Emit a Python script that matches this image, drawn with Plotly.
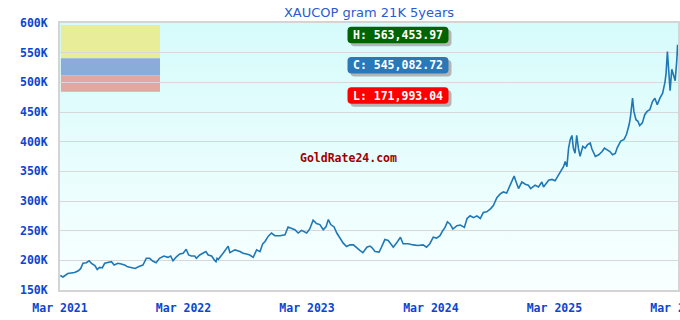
import base64
import plotly.graph_objects as go

# ---------------- data ----------------
dates_2021 = ["2021-03-02", "2021-03-05", "2021-03-10", "2021-03-24", "2021-04-13", "2021-04-23",
              "2021-05-01", "2021-05-08", "2021-05-18", "2021-05-26", "2021-06-02", "2021-06-12",
              "2021-06-19", "2021-06-26", "2021-07-04", "2021-07-11", "2021-07-21", "2021-07-31",
              "2021-08-08", "2021-08-19", "2021-08-29", "2021-09-08", "2021-09-17", "2021-09-27",
              "2021-10-09", "2021-10-22", "2021-11-01", "2021-11-06", "2021-11-11", "2021-11-21",
              "2021-11-30", "2021-12-10", "2021-12-20"]
values_2021 = [174.5, 173.7, 171.99, 177.8, 179.5, 182.0,
               186.0, 195.0, 196.0, 199.3, 195.0, 191.0,
               184.6, 188.0, 187.4, 195.0, 196.0, 197.6,
               192.0, 195.0, 193.7, 192.0, 189.0, 188.0,
               186.3, 190.0, 192.0, 197.6, 203.4, 203.4,
               198.8, 196.0, 203.4]

dates_2022 = ["2022-01-02", "2022-01-14", "2022-01-22", "2022-01-29", "2022-02-08", "2022-02-18",
              "2022-02-28", "2022-03-09", "2022-03-16", "2022-03-24", "2022-04-03", "2022-04-08",
              "2022-04-18", "2022-04-28", "2022-05-06", "2022-05-13", "2022-05-23", "2022-05-31",
              "2022-06-05", "2022-06-08", "2022-06-12", "2022-06-26", "2022-07-11", "2022-07-16",
              "2022-07-31", "2022-08-15", "2022-08-24", "2022-09-03", "2022-09-13", "2022-09-23",
              "2022-10-03", "2022-10-13", "2022-10-21", "2022-10-28", "2022-11-06", "2022-11-16",
              "2022-11-26", "2022-12-11", "2022-12-26"]
values_2022 = [207.3, 205.0, 207.3, 199.3, 206.0, 210.7,
               212.0, 218.8, 209.0, 207.3, 207.3, 203.4,
               209.0, 213.0, 214.7, 209.0, 207.3, 200.5,
               197.6, 203.4, 201.7, 212.0, 224.0, 213.0,
               217.6, 214.7, 212.0, 210.7, 209.0, 205.0,
               217.6, 214.7, 227.8, 231.7, 240.3, 246.0,
               241.5, 241.5, 243.2]

dates_2023 = ["2023-01-04", "2023-01-14", "2023-01-24", "2023-02-03", "2023-02-13", "2023-02-28",
              "2023-03-09", "2023-03-19", "2023-03-29", "2023-04-08", "2023-04-18", "2023-04-26",
              "2023-05-03", "2023-05-10", "2023-05-20", "2023-05-28", "2023-06-07", "2023-06-16",
              "2023-06-26", "2023-07-06", "2023-07-16", "2023-07-26", "2023-08-05", "2023-08-13",
              "2023-08-25", "2023-09-03", "2023-09-08", "2023-09-18", "2023-09-30", "2023-10-07",
              "2023-10-17", "2023-10-27", "2023-11-11", "2023-11-21", "2023-12-02", "2023-12-10",
              "2023-12-25"]
values_2023 = [256.3, 254.6, 251.7, 246.0, 250.5, 246.0,
               252.9, 267.6, 262.0, 260.3, 251.7, 256.3,
               268.8, 260.3, 256.3, 246.0, 237.5, 229.0,
               223.2, 226.1, 226.0, 220.5, 216.4, 213.0,
               222.0, 224.0, 222.0, 215.0, 214.0, 222.0,
               235.0, 233.5, 222.0, 229.5, 239.0, 228.0,
               228.0]

dates_2024 = ["2024-01-09", "2024-01-23", "2024-02-07", "2024-02-17", "2024-02-27", "2024-03-08",
              "2024-03-18", "2024-03-28", "2024-04-05", "2024-04-12", "2024-04-19", "2024-04-27",
              "2024-05-05", "2024-05-17", "2024-05-27", "2024-06-08", "2024-06-16", "2024-06-25",
              "2024-07-05", "2024-07-15", "2024-07-25", "2024-08-03", "2024-08-13", "2024-08-25",
              "2024-09-02", "2024-09-12", "2024-09-22", "2024-10-01", "2024-10-11", "2024-10-19",
              "2024-10-26", "2024-11-02", "2024-11-08", "2024-11-15", "2024-11-25", "2024-12-05",
              "2024-12-14", "2024-12-21"]
values_2024 = [226.0, 225.0, 226.0, 222.0, 228.0, 239.0,
               237.5, 241.7, 250.0, 255.5, 265.0, 261.0,
               252.8, 258.3, 259.5, 255.5, 270.5, 275.0,
               272.0, 275.0, 270.5, 280.5, 281.7, 287.2,
               292.8, 305.5, 312.0, 315.2, 313.5, 323.7,
               335.0, 342.0, 332.0, 321.0, 332.0, 328.3,
               326.6, 321.0]

dates_2025 = ["2025-01-03", "2025-01-13", "2025-01-23", "2025-01-28", "2025-02-12", "2025-02-22",
              "2025-03-03", "2025-03-13", "2025-03-20", "2025-03-28", "2025-04-02", "2025-04-07",
              "2025-04-12", "2025-04-17", "2025-04-22", "2025-04-26", "2025-05-01", "2025-05-06",
              "2025-05-11", "2025-05-16", "2025-05-24", "2025-05-31", "2025-06-07", "2025-06-15",
              "2025-06-20", "2025-06-30", "2025-07-10", "2025-07-20", "2025-07-27", "2025-08-04",
              "2025-08-12", "2025-08-20", "2025-08-28", "2025-09-03", "2025-09-13", "2025-09-23",
              "2025-09-30", "2025-10-08", "2025-10-12", "2025-10-18", "2025-10-22", "2025-10-28",
              "2025-11-03", "2025-11-08", "2025-11-16", "2025-11-23", "2025-11-30", "2025-12-08",
              "2025-12-16", "2025-12-23", "2025-12-30"]
values_2025 = [326.6, 323.7, 332.0, 323.7, 335.0, 336.3,
               334.0, 343.7, 352.0, 357.8, 366.4, 357.8,
               389.0, 403.7, 410.5, 389.0, 380.7, 410.5,
               389.0, 375.2, 392.0, 389.0, 394.9, 397.8,
               387.5, 375.2, 378.0, 383.4, 389.0, 386.4,
               383.4, 378.0, 380.0, 390.0, 401.0, 403.8,
               412.0, 428.8, 442.7, 473.3, 451.0, 437.0,
               434.4, 427.0, 431.7, 445.5, 451.0, 453.8,
               467.6, 473.3, 462.2]

dates_2026 = ["2026-01-07", "2026-01-15", "2026-01-22", "2026-01-25", "2026-01-29", "2026-02-03",
              "2026-02-06", "2026-02-11", "2026-02-16", "2026-02-21", "2026-02-26", "2026-02-28",
              "2026-03-01"]
values_2026 = [473.3, 481.6, 500.8, 514.7, 552.0, 497.0,
               486.0, 522.0, 514.0, 502.7, 538.8, 563.45,
               545.08]

dates = dates_2021 + dates_2022 + dates_2023 + dates_2024 + dates_2025 + dates_2026
values_k = values_2021 + values_2022 + values_2023 + values_2024 + values_2025 + values_2026
assert len(dates) == len(values_k)

y_tick_vals = [150, 200, 250, 300, 350, 400, 450, 500, 550, 600]
y_tick_text = ["150K", "200K", "250K", "300K", "350K", "400K", "450K", "500K", "550K", "600K"]
x_tick_vals = ["2021-03-01", "2022-03-01", "2023-03-01", "2024-03-01", "2025-03-01", "2026-03-01"]
x_tick_text = ["Mar 2021", "Mar 2022", "Mar 2023", "Mar 2024", "Mar 2025", "Mar 2026"]

title_text = "XAUCOP gram 21K 5years"
stat_labels = ["H: 563,453.97", "C: 545,082.72", "L: 171,993.04"]
watermark = "GoldRate24.com"

# ---------------- layout helpers ----------------
W, H = 680, 320
L_M, R_M, T_M, B_M = 60, 2, 23, 30
PW, PH = W - L_M - R_M, H - T_M - B_M


def px(x):
    return (x - L_M) / PW


def py(y):
    return 1 - (y - T_M) / PH


MONO = "DejaVu Sans Mono"
TICK_BLUE = "#0b45d0"

fig = go.Figure()
fig.add_trace(go.Scatter(x=dates, y=values_k, mode="lines",
                         line=dict(color="#1f78b6", width=1.6), hoverinfo="skip",
                         showlegend=False))

# gradient background
svg = ('<svg xmlns="http://www.w3.org/2000/svg" width="10" height="100" preserveAspectRatio="none">'
       '<defs><linearGradient id="g" x1="0" y1="0" x2="0" y2="1">'
       '<stop offset="0" stop-color="#d6fbfb"/><stop offset="1" stop-color="#f9ffff"/>'
       '</linearGradient></defs><rect width="10" height="100" fill="url(#g)"/></svg>')
src = "data:image/svg+xml;base64," + base64.b64encode(svg.encode()).decode()
fig.add_layout_image(dict(source=src, xref="paper", yref="paper", x=0, y=1, sizex=1, sizey=1,
                          xanchor="left", yanchor="top", sizing="stretch", layer="below"))

shapes = []
# top-left colour blocks
blocks = [(25, 58.3, "#e8ed9a"), (58.3, 75.3, "#89acd8"), (75.3, 91.7, "#e1a7a0")]
for y0, y1, c in blocks:
    shapes.append(dict(type="rect", xref="paper", yref="paper", x0=0.0015, x1=px(160),
                       y0=py(y1), y1=py(y0), fillcolor=c, line=dict(width=0), layer="below"))

# stat boxes
box_colors = ["#006400", "#2a78b8", "#ff0000"]
box_cy = [35.0, 65.3, 95.5]
box_cx = 398.0
hw, hh, r = 50.5, 8.2, 4.0
path = (f"M {-hw + r},{-hh} L {hw - r},{-hh} Q {hw},{-hh} {hw},{-hh + r} "
        f"L {hw},{hh - r} Q {hw},{hh} {hw - r},{hh} L {-hw + r},{hh} "
        f"Q {-hw},{hh} {-hw},{hh - r} L {-hw},{-hh + r} Q {-hw},{-hh} {-hw + r},{-hh} Z")
annotations = []
for lab, c, cy in zip(stat_labels, box_colors, box_cy):
    shapes.append(dict(type="path", xref="paper", yref="paper", xsizemode="pixel", ysizemode="pixel",
                       xanchor=px(box_cx + 3), yanchor=py(cy + 3), path=path,
                       fillcolor="#b4b4b4", line=dict(width=0), layer="above"))
    shapes.append(dict(type="path", xref="paper", yref="paper", xsizemode="pixel", ysizemode="pixel",
                       xanchor=px(box_cx), yanchor=py(cy), path=path,
                       fillcolor=c, line=dict(width=0), layer="above"))
    annotations.append(dict(text=f"<b>{lab}</b>", xref="paper", yref="paper", x=px(box_cx), y=py(cy),
                            xanchor="center", yanchor="middle", showarrow=False,
                            font=dict(family=MONO, size=11.5, color="white")))

annotations.append(dict(text=f"<b>{watermark}</b>", xref="paper", yref="paper", x=px(348), y=py(157.5),
                        xanchor="center", yanchor="middle", showarrow=False,
                        font=dict(family=MONO, size=11.5, color="#a00000")))

fig.update_layout(
    width=W, height=H, margin=dict(l=L_M, r=R_M, t=T_M, b=B_M, autoexpand=False),
    paper_bgcolor="white", plot_bgcolor="#e8fdfd",
    title=dict(text=title_text, x=0.5, xref="paper", xanchor="center", y=1 - 12 / H, yref="container",
               yanchor="middle", font=dict(family="DejaVu Sans", size=13, color="#2a5bd0")),
    shapes=shapes, annotations=annotations, showlegend=False,
    xaxis=dict(type="date", range=["2021-03-01", "2026-03-01 08:00"], tickvals=x_tick_vals,
               ticktext=x_tick_text, showgrid=False, showline=True, linecolor="#d4d4d4", linewidth=2,
               mirror=True, ticks="", ticklabelstandoff=6, ticklabeloverflow="allow", automargin=False,
               tickfont=dict(family=MONO, size=11.5, color=TICK_BLUE, weight="bold"), zeroline=False),
    yaxis=dict(range=[150, 600], tickvals=y_tick_vals, ticktext=y_tick_text, showgrid=True,
               gridcolor="#d8d8d8", gridwidth=1, showline=True, linecolor="#d4d4d4", linewidth=2,
               mirror=True, ticks="", ticklabelstandoff=8, automargin=False,
               tickfont=dict(family=MONO, size=11.5, color=TICK_BLUE, weight="bold"), zeroline=False),
)

fig.write_html("out.html")
